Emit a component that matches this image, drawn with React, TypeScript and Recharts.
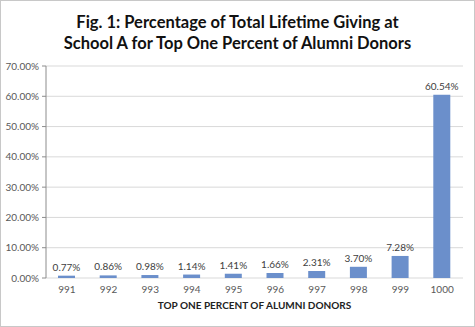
import React from 'react';
import { BarChart, Bar, XAxis, YAxis, CartesianGrid, LabelList } from 'recharts';

const donors = ['991', '992', '993', '994', '995', '996', '997', '998', '999', '1000'];
const shares = [0.77, 0.86, 0.98, 1.14, 1.41, 1.66, 2.31, 3.7, 7.28, 60.54];
const yTicks = [0, 10, 20, 30, 40, 50, 60, 70];
const boundaryTicks = [0, 1, 2, 3, 4, 5, 6, 7, 8, 9, 10];

const data = donors.map((d, i) => ({ donor: d, share: shares[i], pos: i + 0.5 }));

const font = 'Lato, "Liberation Sans", sans-serif';
const pct = (v: number) => v.toFixed(2) + '%';

export default function App() {
  return (
    <div
      style={{
        position: 'absolute',
        left: 0,
        top: 0,
        width: 475,
        height: 327,
        boxSizing: 'border-box',
        border: '1px solid #C8C8C8',
        background: '#fff',
        fontFamily: font,
      }}
    >
      <div
        style={{
          position: 'absolute',
          left: 0,
          right: 0,
          top: 11,
          textAlign: 'center',
          fontSize: 16.5,
          fontWeight: 700,
          lineHeight: '21px',
          color: '#111',
        }}
      >
        Fig. 1: Percentage of Total Lifetime Giving at
        <br />
        School A for Top One Percent of Alumni Donors
      </div>
      <BarChart
        width={473}
        height={325}
        data={data}
        margin={{ top: 65, right: 11, bottom: 12, left: 0 }}
        barCategoryGap="30%"
      >
        <CartesianGrid vertical={false} stroke="#D9D9D9" />
        <XAxis
          xAxisId="b"
          type="number"
          dataKey="pos"
          domain={[0, 10]}
          ticks={boundaryTicks}
          tick={false}
          height={0}
          axisLine={{ stroke: '#8C8C8C' }}
          tickLine={{ stroke: '#8C8C8C' }}
          tickSize={4}
        />
        <XAxis
          dataKey="donor"
          height={36}
          axisLine={false}
          tickLine={false}
          tick={{ fontSize: 10, fill: '#595959', fontFamily: font }}
          label={{
            value: 'TOP ONE PERCENT OF ALUMNI DONORS',
            position: 'insideBottom',
            offset: 5,
            style: { fontSize: 10, fontWeight: 700, fill: '#222', fontFamily: font },
          }}
        />
        <YAxis
          width={45}
          domain={[0, 70]}
          ticks={yTicks}
          tickFormatter={pct}
          axisLine={{ stroke: '#8C8C8C' }}
          tickLine={{ stroke: '#8C8C8C' }}
          tickSize={4}
          tickMargin={3}
          tick={{ fontSize: 10, fill: '#595959', fontFamily: font }}
        />
        <Bar dataKey="share" fill="#6B8FCB" barSize={17} isAnimationActive={false}>
          <LabelList
            dataKey="share"
            position="top"
            offset={5}
            formatter={(v: any) => pct(Number(v))}
            style={{ fontSize: 10, fill: '#404040', fontFamily: font }}
          />
        </Bar>
      </BarChart>
    </div>
  );
}
